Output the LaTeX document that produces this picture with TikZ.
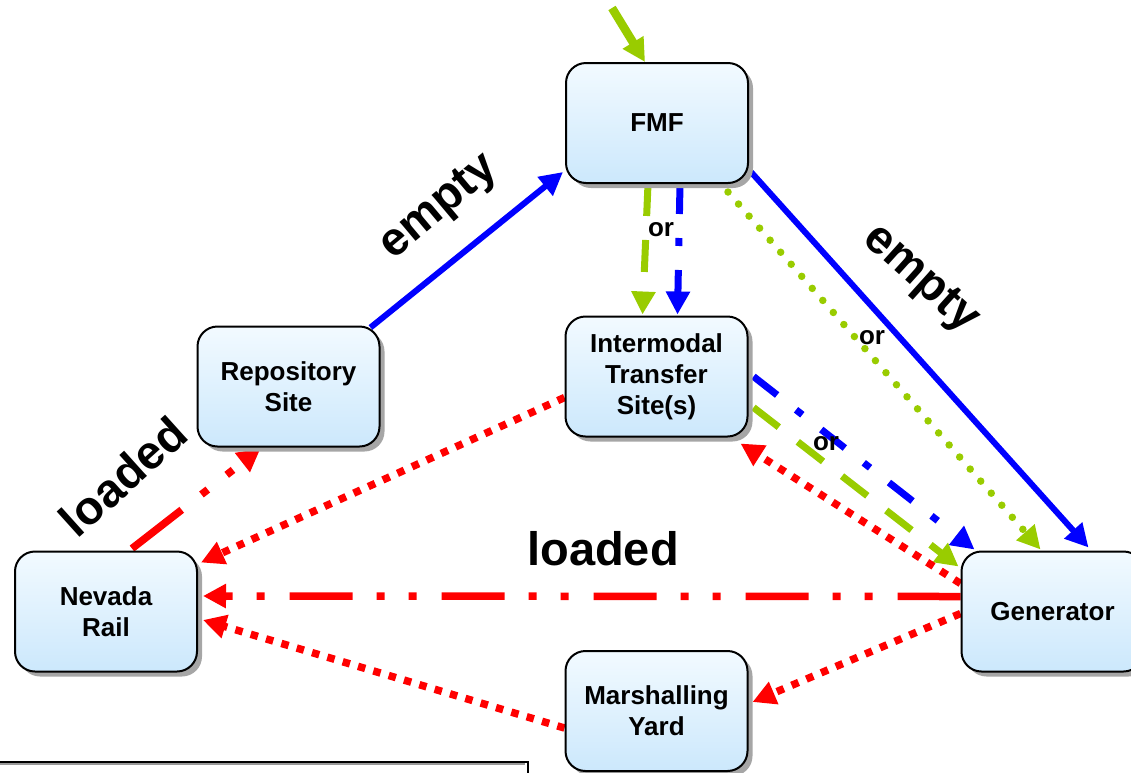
\documentclass[tikz,border=0pt]{standalone}
\usepackage{fontspec}
\setmainfont{Liberation Sans}
\usetikzlibrary{arrows.meta,shadows,calc,backgrounds}
\definecolor{topc}{RGB}{242,250,255}
\definecolor{botc}{RGB}{204,232,252}
\definecolor{grn}{RGB}{153,204,0}
\definecolor{blu}{RGB}{0,0,255}
\definecolor{rd}{RGB}{255,0,0}
\begin{document}
\begin{tikzpicture}[x=1pt,y=-1pt,
  box/.style={rectangle, rounded corners=20pt, draw=black, line width=2pt,
    top color=topc, bottom color=botc, minimum width=182pt, minimum height=120pt,
    align=center, inner sep=0pt, font=\fontsize{26}{31}\selectfont\bfseries,
    drop shadow={shadow xshift=5pt, shadow yshift=-5pt, fill=black!35, opacity=1}},
  lbl/.style={font=\fontsize{47}{52}\selectfont\bfseries, inner sep=0pt},
  orl/.style={font=\fontsize{26}{30}\selectfont\bfseries, inner sep=0pt},
  tip/.style={-{Triangle[length=23pt,width=23pt]}},
  greensolid/.style={tip, color=grn, line width=8.5pt},
  bluesolid/.style={tip, color=blu, line width=6pt},
  greendash/.style={tip, color=grn, line width=7pt, dash pattern=on 32pt off 24pt},
  bluedashdot/.style={tip, color=blu, line width=7pt, dash pattern=on 30pt off 24pt on 8pt off 24pt},
  greendot/.style={tip, color=grn, line width=7.5pt, line cap=round, dash pattern=on 0pt off 16pt},
  reddot/.style={tip, color=rd, line width=7.5pt, dash pattern=on 7.5pt off 8.5pt},
  reddashdotdot/.style={tip, color=rd, line width=7.5pt, dash pattern=on 63pt off 25pt on 8pt off 24pt on 8pt off 24pt}
]
\useasboundingbox (0,0) rectangle (1131,772);

\node[box] (fmf) at (657,123) {FMF};
\node[box] (repo) at (288.5,386.5) {Repository\\Site};
\node[box] (inter) at (656.5,376.5) {Intermodal\\Transfer\\Site(s)};
\node[box] (nev) at (106,611.5) {Nevada\\Rail};
\node[box] (gen) at (1052.5,611.5) {Generator};
\node[box] (mar) at (656.5,711) {Marshalling\\Yard};

\coordinate (src) at (612,8);

\begin{scope}[on background layer]
\draw[greensolid] (src) -- ($(fmf.north)+(-12,0)$);
\draw[bluesolid] ($(repo.north east)+(-10,2)$) -- ($(fmf.south west)+(-2,-12)$);
\draw[bluesolid] ($(fmf.south east)+(2,-12)$) -- ($(gen.north)+(36,-3)$);
\draw[greendash] ($(fmf.south)+(-9,0)$) -- ($(inter.north)+(-14,-1)$);
\draw[bluedashdot] ($(fmf.south)+(23,0)$) -- ($(inter.north)+(21,-1)$);
\draw[greendot] ($(fmf.south east)+(-21,8)$) -- ($(gen.north)+(-12,-1)$);
\draw[bluedashdot] ($(inter.east)+(5,0)$) -- ($(gen.north west)+(14,-1)$);
\draw[greendash] ($(inter.east)+(5,31)$) -- ($(gen.north west)+(-2,16)$);
\draw[reddot] ($(gen.west)+(0,-28)$) -- ($(inter.south east)+(-8,6)$);
\draw[reddot] ($(inter.west)+(0,21)$) -- ($(nev.north east)+(3,12)$);
\draw[reddashdotdot] ($(gen.west)+(0,-15)$) -- ($(nev.east)+(5,-15.5)$);
\draw[reddot] ($(mar.west)+(0,17)$) -- ($(nev.east)+(5,8.5)$);
\draw[reddot] ($(gen.west)+(0,2)$) -- ($(mar.east)+(4,-9)$);
\draw[reddashdotdot] ($(nev.north)+(26,-2)$) -- ($(repo.south)+(-28,1)$);
\end{scope}

\node[lbl, rotate=40] (emptyl) at (440,208) {empty};
\node[lbl, rotate=-42] (emptyr) at (920,280) {empty};
\node[lbl, rotate=42] (loadedl) at (123,476) {loaded};
\node[lbl] (loadedm) at (603,549) {loaded};
\node[orl] (or1) at (661,230) {or};
\node[orl] (or2) at (872,338) {or};
\node[orl] (or3) at (826,444) {or};

\draw[black!40, line width=1.5pt] (0,764) -- (525,764);
\draw[black, line width=2pt] (0,762) -- (528,762) -- (528,790);
\end{tikzpicture}
\end{document}
